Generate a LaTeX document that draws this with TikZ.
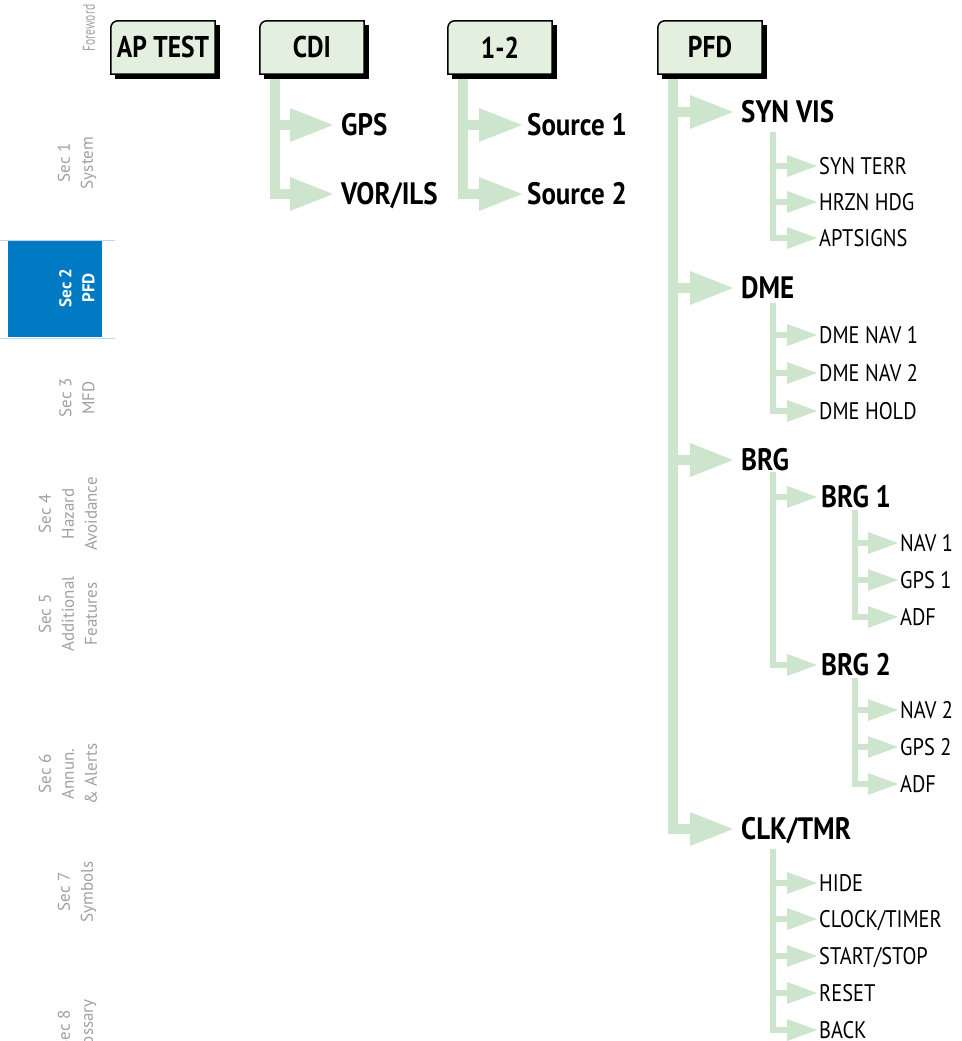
\documentclass[tikz,border=0pt]{standalone}
\usepackage{fontspec}
\setmainfont{PT Sans}
\newfontfamily\cond[FakeStretch=0.85]{PT Sans}
\newfontfamily\condh[FakeStretch=0.87]{PT Sans}
\newfontfamily\condside[FakeStretch=0.68]{PT Sans}
\usetikzlibrary{arrows.meta}
\pgfdeclarelayer{bg}
\pgfsetlayers{bg,main}
\definecolor{tg}{RGB}{204,229,204}
\definecolor{btnfill}{RGB}{228,240,223}
\definecolor{sideblue}{RGB}{0,122,194}
\definecolor{sepblue}{RGB}{190,215,235}
\definecolor{sidegray}{RGB}{160,160,160}
\tikzset{
  btn/.style={inner sep=0pt, minimum width=104pt, minimum height=53pt,
    font=\cond\bfseries\fontsize{30}{30}\selectfont},
  head/.style={anchor=west, inner sep=0pt, text height=21pt, text depth=0pt,
    font=\condh\bfseries\fontsize{31}{31}\selectfont},
  item/.style={anchor=west, inner sep=0pt, text height=17pt, text depth=0pt,
    font=\cond\fontsize{24}{24}\selectfont},
  side/.style={rotate=90, align=center, text=sidegray, inner sep=0pt,
    font=\fontsize{17}{23}\selectfont},
  l1/.style={draw=tg, line width=10pt,
    -{Triangle[length=43pt,width=34pt,line width=0pt]}},
  l2/.style={draw=tg, line width=6pt,
    -{Triangle[length=30pt,width=22pt,line width=0pt]}},
}
\begin{document}
\begin{tikzpicture}[x=1pt,y=-1pt]
\useasboundingbox (0,0) rectangle (961,1041);

% ---------- sidebar ----------
\fill[sideblue] (8,240) rectangle (102,337);
\draw[sepblue, line width=1pt] (0,240) -- (115,240);
\draw[sepblue, line width=1pt] (0,338) -- (115,338);
\node[side, font=\condside\fontsize{17}{23}\selectfont] (s0) at (89,28) {Foreword};
\node[side] (s1) at (77,163) {Sec 1\\System};
\node[side, text=white, font=\bfseries\fontsize{17}{23}\selectfont] (s2) at (77,288) {Sec 2\\PFD};
\node[side] (s3) at (77,398) {Sec 3\\MFD};
\node[side] (s4) at (68,514) {Sec 4\\Hazard\\Avoidance};
\node[side] (s5) at (68,614) {Sec 5\\Additional\\Features};
\node[side] (s6) at (68,774) {Sec 6\\Annun.\\\& Alerts};
\node[side] (s7) at (77,892) {Sec 7\\Symbols};
\node[side] (s8) at (77,1030) {Sec 8\\Glossary};

% ---------- buttons ----------
\node[btn] (aptest) at (163,47.5) {AP TEST};
\node[btn] (cdi) at (312,47.5) {CDI};
\node[btn] (onetwo) at (500,47.5) {1-2};
\node[btn] (pfd) at (710,47.5) {PFD};

% ---------- bar x positions ----------
\coordinate (xa) at (275,0);
\coordinate (xb) at (463,0);
\coordinate (xp) at (673,0);
\coordinate (x2) at (773,0);
\coordinate (x3) at (855,0);

% ---------- labels ----------
\node[head] (gps) at (341,125) {GPS};
\node[head] (vorils) at (341,194) {VOR/ILS};
\node[head] (src1) at (527,125) {Source 1};
\node[head] (src2) at (527,194) {Source 2};

\node[head] (synvis) at (741,112) {SYN VIS};
\node[item] (synterr) at (819,166) {SYN TERR};
\node[item] (hrzn) at (819,202) {HRZN HDG};
\node[item] (aptsigns) at (819,238) {APTSIGNS};

\node[head] (dme) at (741,288) {DME};
\node[item] (dmenav1) at (819,335) {DME NAV 1};
\node[item] (dmenav2) at (819,373) {DME NAV 2};
\node[item] (dmehold) at (819,411) {DME HOLD};

\node[head] (brg) at (741,460) {BRG};
\node[head] (brg1) at (821,497) {BRG 1};
\node[item] (nav1) at (900,543) {NAV 1};
\node[item] (gps1) at (900,580) {GPS 1};
\node[item] (adf1) at (900,617) {ADF};
\node[head] (brg2) at (821,665) {BRG 2};
\node[item] (nav2) at (900,710) {NAV 2};
\node[item] (gps2) at (900,747) {GPS 2};
\node[item] (adf2) at (900,784) {ADF};

\node[head] (clk) at (741,829) {CLK/TMR};
\node[item] (hide) at (819,883) {HIDE};
\node[item] (clocktimer) at (819,919) {CLOCK/TIMER};
\node[item] (startstop) at (819,956) {START/STOP};
\node[item] (reset) at (819,993) {RESET};
\node[item] (back) at (819,1030) {BACK};

\begin{pgfonlayer}{bg}
% ---------- connectors ----------
\foreach \c in {gps,vorils}
  \draw[l1] (cdi.south -| xa) |- ([xshift=-8pt]\c.west);
\foreach \c in {src1,src2}
  \draw[l1] (onetwo.south -| xb) |- ([xshift=-5pt]\c.west);
\foreach \c in {synvis,dme,brg,clk}
  \draw[l1] (pfd.south -| xp) |- ([xshift=-8pt]\c.west);

\foreach \c in {synterr,hrzn,aptsigns}
  \draw[l2] ([yshift=-9pt]synvis.south -| x2) |- ([xshift=-2pt]\c.west);
\foreach \c in {dmenav1,dmenav2,dmehold}
  \draw[l2] ([yshift=-4pt]dme.south -| x2) |- ([xshift=-2pt]\c.west);
\foreach \c in {brg1,brg2}
  \draw[l2] ([yshift=-1pt]brg.south -| x2) |- ([xshift=-4pt]\c.west);
\foreach \c in {nav1,gps1,adf1}
  \draw[l2] ([yshift=-2pt]brg1.south -| x3) |- ([xshift=-2pt]\c.west);
\foreach \c in {nav2,gps2,adf2}
  \draw[l2] ([yshift=-2pt]brg2.south -| x3) |- ([xshift=-2pt]\c.west);
\foreach \c in {hide,clocktimer,startstop,reset,back}
  \draw[l2] ([yshift=-9pt]clk.south -| x2) |- ([xshift=-2pt]\c.west);

% ---------- button boxes ----------
\foreach \n in {aptest,cdi,onetwo,pfd}{
  \fill[black] ([shift={(4.5pt,-4.5pt)}]\n.north west) rectangle ([shift={(4.5pt,-4.5pt)}]\n.south east);
  \filldraw[fill=btnfill, draw=black, line width=1.5pt]
    (\n.south west) -- ([yshift=-7pt]\n.north west)
    arc[start angle=180, end angle=90, radius=7pt]
    -- (\n.north east) -- (\n.south east) -- cycle;
}
\end{pgfonlayer}
\end{tikzpicture}
\end{document}
